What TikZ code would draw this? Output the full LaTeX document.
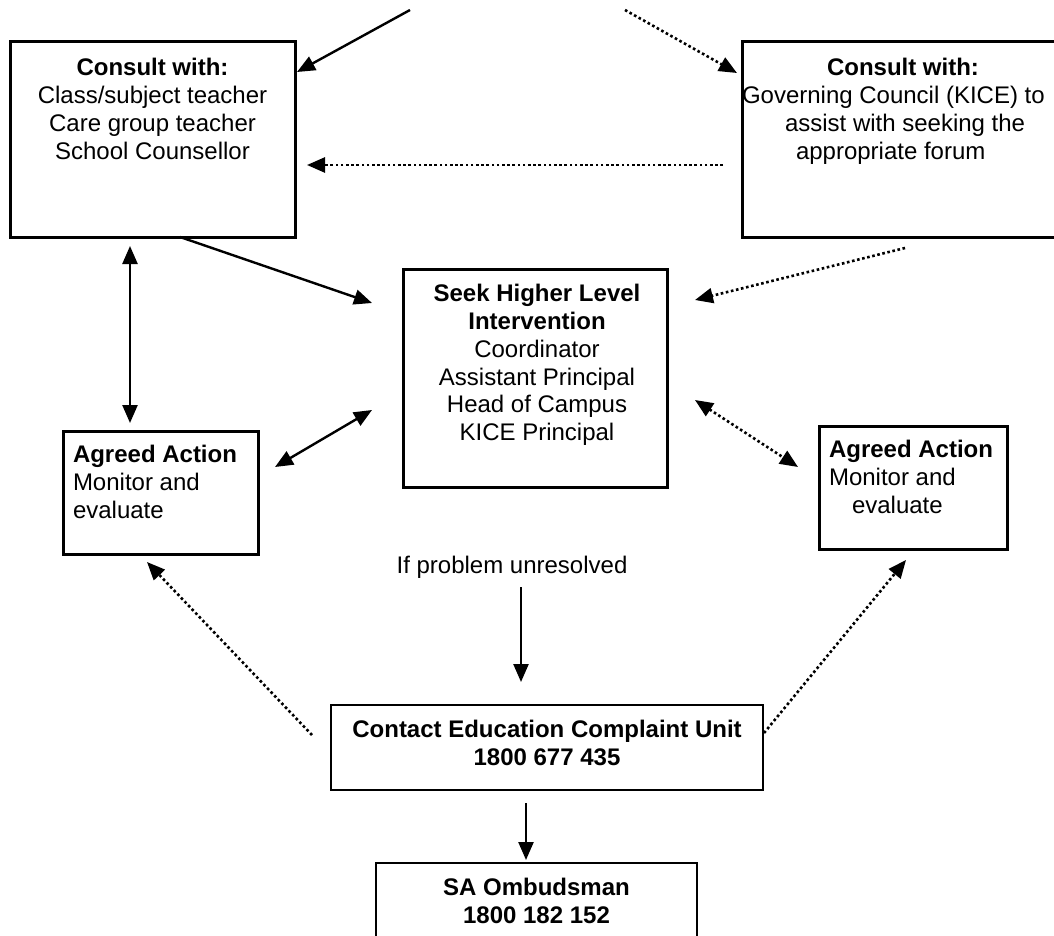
\documentclass[tikz,border=0pt]{standalone}
\usepackage{fontspec}
\setmainfont{Liberation Sans}
\usetikzlibrary{arrows.meta,calc}
\begin{document}
\begin{tikzpicture}[x=1pt,y=-1pt,
  box/.style={draw, line width=3pt, outer sep=0pt, inner sep=0pt},
  thinbox/.style={draw, line width=2pt, outer sep=0pt, inner sep=0pt},
  txt/.style={inner sep=0pt, outer sep=0pt, font=\fontsize{24}{27.8}\selectfont},
  tipshape/.tip={Triangle[length=18pt,width=15pt]},
  solidarr/.style={line width=2.4pt, -tipshape},
  solidboth/.style={line width=2.4pt, tipshape-tipshape},
  dotarr/.style={line width=2.6pt, dash pattern=on 2.6pt off 2.6pt, -tipshape},
  dotboth/.style={line width=2.6pt, dash pattern=on 2.6pt off 2.6pt, tipshape-tipshape}
]
\useasboundingbox (0,0) rectangle (1054,936);
\fill[white] (0,0) rectangle (1054,936);

% boxes
\node[box, minimum width=285pt, minimum height=195pt] (A) at (152.5,139.5) {};
\node[box, minimum width=320pt, minimum height=195pt] (B) at (902,139.5) {};
\node[box, minimum width=264pt, minimum height=218pt] (C) at (535,378) {};
\node[box, minimum width=195pt, minimum height=123pt] (D) at (160.5,492.5) {};
\node[box, minimum width=188pt, minimum height=123pt] (E) at (913,487.5) {};
\node[thinbox, minimum width=432pt, minimum height=85pt] (F) at (547,747.5) {};
\node[thinbox, minimum width=321pt, minimum height=97pt] (G) at (536.5,911.5) {};

% texts
\node[txt, align=center, anchor=north] (At) at (152.5,58.3)
  {\textbf{Consult with:}\\Class/subject teacher\\Care group teacher\\School Counsellor};
\node[txt, align=left, anchor=north west] (Bt) at (742,58.3)
  {\hspace*{85pt}\textbf{Consult with:}\\Governing Council (KICE) to\\\hspace*{43pt}assist with seeking the\\\hspace*{54pt}appropriate forum};
\node[txt, align=center, anchor=north] (Ct) at (537,284.3)
  {\textbf{Seek Higher Level}\\\textbf{Intervention}\\Coordinator\\Assistant Principal\\Head of Campus\\KICE Principal};
\node[txt, align=left, anchor=north west] (Dt) at (73,445.3)
  {\textbf{Agreed Action}\\Monitor and\\evaluate};
\node[txt, align=left, anchor=north west] (Et) at (829,440.3)
  {\textbf{Agreed Action}\\Monitor and\\\hspace*{23pt}evaluate};
\node[txt, anchor=base] (U) at (512,573.5) {If problem unresolved};
\node[txt, align=center, anchor=north] (Ft) at (547,720.3)
  {\textbf{Contact Education Complaint Unit}\\\textbf{1800 677 435}};
\node[txt, align=center, anchor=north] (Gt) at (536.5,878.3)
  {\textbf{SA Ombudsman}\\\textbf{1800 182 152}};

% free ends at the top
\coordinate (top1) at (410,10);
\coordinate (top2) at (625,10);

% connectors
\draw[solidarr] (top1) -- ([xshift=2pt,yshift=-30pt]A.north east);
\draw[dotarr] (top2) -- ([xshift=-5pt,yshift=-31pt]B.north west);
\draw[dotarr] ([xshift=-19pt,yshift=-25.5pt]B.west) -- ([xshift=12pt,yshift=-25.5pt]A.east);
\draw[solidarr] ([xshift=27.5pt]A.south) -- ([xshift=-31pt,yshift=-34pt]C.north west);
\draw[dotarr] ([xshift=3pt,yshift=-11pt]B.south) -- ([xshift=28pt,yshift=-31pt]C.north east);
\draw[solidboth] ([xshift=-22.5pt,yshift=-9pt]A.south) -- ([xshift=-30.5pt,yshift=8pt]D.north);
\draw[solidboth] ([xshift=17pt,yshift=-36pt]D.north east) -- ([xshift=-31pt,yshift=-32pt]C.west);
\draw[dotboth] ([xshift=28pt,yshift=-22pt]C.east) -- ([xshift=-21pt,yshift=-41pt]E.north west);
\draw[dotarr] ([xshift=-19pt,yshift=-30pt]F.north west) -- ([xshift=-13.5pt,yshift=-8pt]D.south);
\draw[dotarr] ([xshift=1pt,yshift=-28pt]F.north east) -- ([xshift=-7pt,yshift=-11pt]E.south);
\draw[solidarr] ([xshift=9pt,yshift=-9pt]U.south) -- ([xshift=-26pt,yshift=23pt]F.north);
\draw[solidarr] ([xshift=-21pt,yshift=-13pt]F.south) -- ([xshift=-10.5pt,yshift=3pt]G.north);
\end{tikzpicture}
\end{document}
